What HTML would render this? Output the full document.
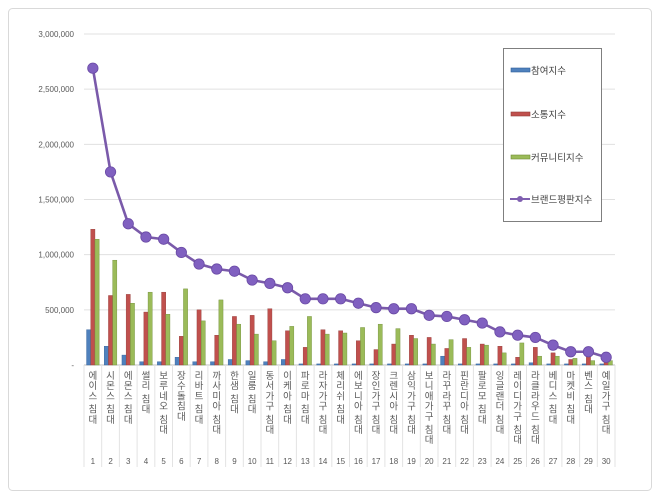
<!DOCTYPE html>
<html><head><meta charset="utf-8"><style>
html,body{margin:0;padding:0;background:#fff;}
svg{display:block;font-family:"Liberation Sans","Noto Sans CJK KR",sans-serif;}
</style></head><body>
<svg id="chart" width="660" height="498" viewBox="0 0 660 498" xmlns="http://www.w3.org/2000/svg">
<rect x="8.5" y="8.5" width="643" height="482" rx="4" fill="#fff" stroke="#d9d9d9"/>
<g id="grid"></g><g id="bars"></g><g id="line"></g><g id="xlabels"></g>
<g>
<rect x="503.5" y="48.5" width="98" height="173" fill="#fff" stroke="#7f7f7f"/>
<g><rect x="511" y="68" width="19" height="4" fill="#4f81bd" stroke="#2f5f9a" stroke-width="0.6"/><text x="531" y="74" font-size="9.5" fill="#404040">참여지수</text></g>
<g><rect x="511" y="112" width="19" height="4" fill="#c0504d" stroke="#913b38" stroke-width="0.6"/><text x="531" y="118" font-size="9.5" fill="#404040">소통지수</text></g>
<g><rect x="511" y="155" width="19" height="4" fill="#9bbb59" stroke="#6f8c38" stroke-width="0.6"/><text x="531" y="161" font-size="9.5" fill="#404040">커뮤니티지수</text></g>
<g><line x1="510" y1="199" x2="530" y2="199" stroke="#7f5fb0" stroke-width="2"/><circle cx="520" cy="199" r="3" fill="#7f5fb0"/><text x="531" y="203" font-size="9.5" fill="#404040">브랜드평판지수</text></g>
</g>
</svg>
<script>
const categories=["에이스 침대","시몬스 침대","에몬스 침대","썰리 침대","보루네오 침대","장수돌침대","리바트 침대","까사미아 침대","한샘 침대","일룸 침대","동서가구 침대","이케아 침대","파로마 침대","라자가구 침대","체리쉬 침대","에보니아 침대","장인가구 침대","크렌시아 침대","삼익가구 침대","보니애가구 침대","라꾸라꾸 침대","핀란디아 침대","팔로모 침대","잉글랜더 침대","레이디가구 침대","라클라우드 침대","베디스 침대","마켓비 침대","벤스 침대","예일가구 침대"];
const participation=[320000,170000,90000,30000,30000,70000,30000,30000,50000,40000,30000,50000,10000,10000,10000,10000,10000,10000,10000,10000,80000,10000,10000,10000,10000,20000,10000,10000,10000,10000];
const communication=[1230000,630000,640000,480000,660000,260000,500000,270000,440000,450000,510000,310000,160000,320000,310000,220000,140000,190000,270000,250000,150000,240000,190000,170000,70000,160000,110000,50000,80000,30000];
const community=[1140000,950000,560000,660000,460000,690000,400000,590000,370000,280000,220000,350000,440000,280000,290000,340000,370000,330000,240000,190000,230000,160000,180000,110000,200000,80000,80000,60000,40000,40000];
const brandIndex=[2690000,1750000,1280000,1160000,1140000,1020000,915000,870000,850000,770000,740000,700000,600000,600000,600000,560000,520000,510000,510000,450000,440000,410000,380000,300000,270000,250000,180000,120000,120000,70000];
const yTicks=[0,500000,1000000,1500000,2000000,2500000,3000000];
const yTickLabels=["-","500,000","1,000,000","1,500,000","2,000,000","2,500,000","3,000,000"];
const NS="http://www.w3.org/2000/svg";
const L=84,R=615,T=34,B=365,YMAX=3000000;
const step=(R-L)/categories.length;
function y(v){return B-(v/YMAX)*(B-T);}
function xc(i){return L+step*(i+0.5);}
function mk(tag,attrs,parent){const e=document.createElementNS(NS,tag);for(const k in attrs)e.setAttribute(k,attrs[k]);parent.appendChild(e);return e;}
const grid=document.getElementById('grid');
yTicks.forEach((v,i)=>{
 const gl=mk('line',{x1:L,x2:R,y1:y(v),y2:y(v),stroke:i===0?'#bfbfbf':'#e0e0e0','stroke-width':1},grid);
 
 
 const t=mk('text',{x:74,y:y(v)+3,'font-size':8,'text-anchor':'end',fill:'#595959'},grid);
 t.textContent=yTickLabels[i];
 
 
});
const bars=document.getElementById('bars');
const series=[[participation,'#4f81bd','#2f5f9a','bar-participation'],[communication,'#c0504d','#913b38','bar-communication'],[community,'#9bbb59','#6f8c38','bar-community']];
const bw=4.2;
series.forEach((s,si)=>{
 s[0].forEach((v,i)=>{
  const x0=xc(i)-bw*1.5+si*bw;
  const r=mk('rect',{x:x0,y:y(v),width:bw,height:B-y(v),fill:s[1],stroke:s[2],'stroke-width':0.4},bars);
  
  
 });
});
const lg=document.getElementById('line');
const pts=brandIndex.map((v,i)=>xc(i)+','+y(v)).join(' ');
const pl=mk('polyline',{points:pts,fill:'none',stroke:'#7a5aaa','stroke-width':2.6},lg);


brandIndex.forEach((v,i)=>{
 const c=mk('circle',{cx:xc(i),cy:y(v),r:5.2,fill:'#8060c0',stroke:'#6a4aa5','stroke-width':0.8},lg);
 
 
});
const xl=document.getElementById('xlabels');
for(let i=0;i<=categories.length;i++){
 const sl=mk('line',{x1:L+step*i,x2:L+step*i,y1:B,y2:467,stroke:'#e3e3e3','stroke-width':1},xl);
 
 
}
categories.forEach((c,i)=>{
 const g=mk('text',{x:xc(i),'font-size':9.5,'text-anchor':'middle',fill:'#595959'},xl);
 
 
 let yy=379;
 for(const ch of c){
  if(ch===' '){yy+=3;continue;}
  const ts=mk('tspan',{x:xc(i),y:yy},g);ts.textContent=ch;yy+=10.2;
 }
 const n=mk('text',{x:xc(i),y:464,'font-size':8,'text-anchor':'middle',fill:'#595959'},xl);
 n.textContent=String(i+1);
 
 
});
</script>
</body></html>
